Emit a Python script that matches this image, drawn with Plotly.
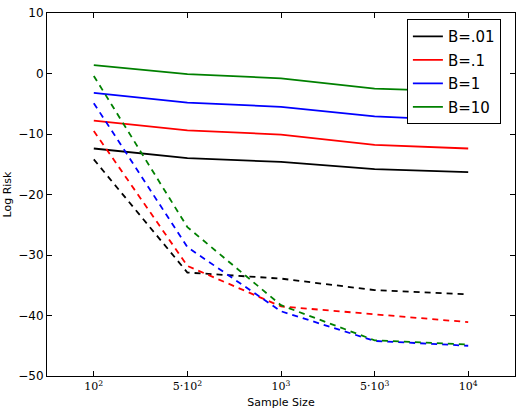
import plotly.graph_objects as go

x_labels = ["10<sup>2</sup>", "5·10<sup>2</sup>", "10<sup>3</sup>", "5·10<sup>3</sup>", "10<sup>4</sup>"]
x_idx = [0, 1, 2, 3, 4]

series_names = ["B=.01", "B=.1", "B=1", "B=10"]
colors = ["black", "red", "blue", "green"]

solid = {
    "B=.01": [-12.4, -14.0, -14.6, -15.8, -16.3],
    "B=.1": [-7.8, -9.4, -10.1, -11.8, -12.4],
    "B=1": [-3.2, -4.8, -5.5, -7.1, -7.8],
    "B=10": [1.4, -0.1, -0.8, -2.5, -3.0],
}
dashed = {
    "B=.01": [-14.2, -32.9, -33.9, -35.8, -36.5],
    "B=.1": [-9.5, -31.8, -38.5, -39.8, -41.1],
    "B=1": [-4.9, -28.7, -39.3, -44.2, -45.0],
    "B=10": [-0.4, -25.4, -38.3, -44.1, -44.8],
}

fig = go.Figure()
for name, c in zip(series_names, colors):
    fig.add_trace(go.Scatter(x=x_idx, y=solid[name], mode="lines", name=name,
                             legendgroup=name,
                             line=dict(color=c, width=1.8), showlegend=True))
for name, c in zip(series_names, colors):
    fig.add_trace(go.Scatter(x=x_idx, y=dashed[name], mode="lines", name=name,
                             legendgroup=name,
                             line=dict(color=c, width=1.8, dash="6px,5px"), showlegend=False))

fig.update_layout(
    width=520, height=412,
    margin=dict(l=47, r=5, t=13, b=36),
    plot_bgcolor="white", paper_bgcolor="white",
    font=dict(family="DejaVu Sans", size=12, color="black"),
    legend=dict(x=0.769, y=0.983, xanchor="left", yanchor="top",
                bordercolor="black", borderwidth=1, bgcolor="white",
                font=dict(size=15, family="DejaVu Sans"),
                traceorder="grouped", tracegroupgap=1,
                itemwidth=30),
    xaxis=dict(range=[-0.5, 4.5], tickmode="array", tickvals=x_idx, ticktext=x_labels,
               tickfont=dict(family="DejaVu Serif", size=11),
               showgrid=False, zeroline=False, showline=True, linecolor="black", linewidth=1,
               mirror="allticks", ticks="inside", ticklen=5, tickcolor="black",
               title=dict(text="Sample Size", font=dict(size=11), standoff=6)),
    yaxis=dict(range=[-50, 10], tickmode="array", tickvals=[-50, -40, -30, -20, -10, 0, 10],
               ticktext=["−50", "−40", "−30", "−20", "−10", "0", "10"],
               tickfont=dict(size=12),
               showgrid=False, zeroline=False, showline=True, linecolor="black", linewidth=1,
               mirror="allticks", ticks="inside", ticklen=5, tickcolor="black",
               title=dict(text="Log Risk", font=dict(size=11), standoff=4)),
)

fig.write_html("out.html")
